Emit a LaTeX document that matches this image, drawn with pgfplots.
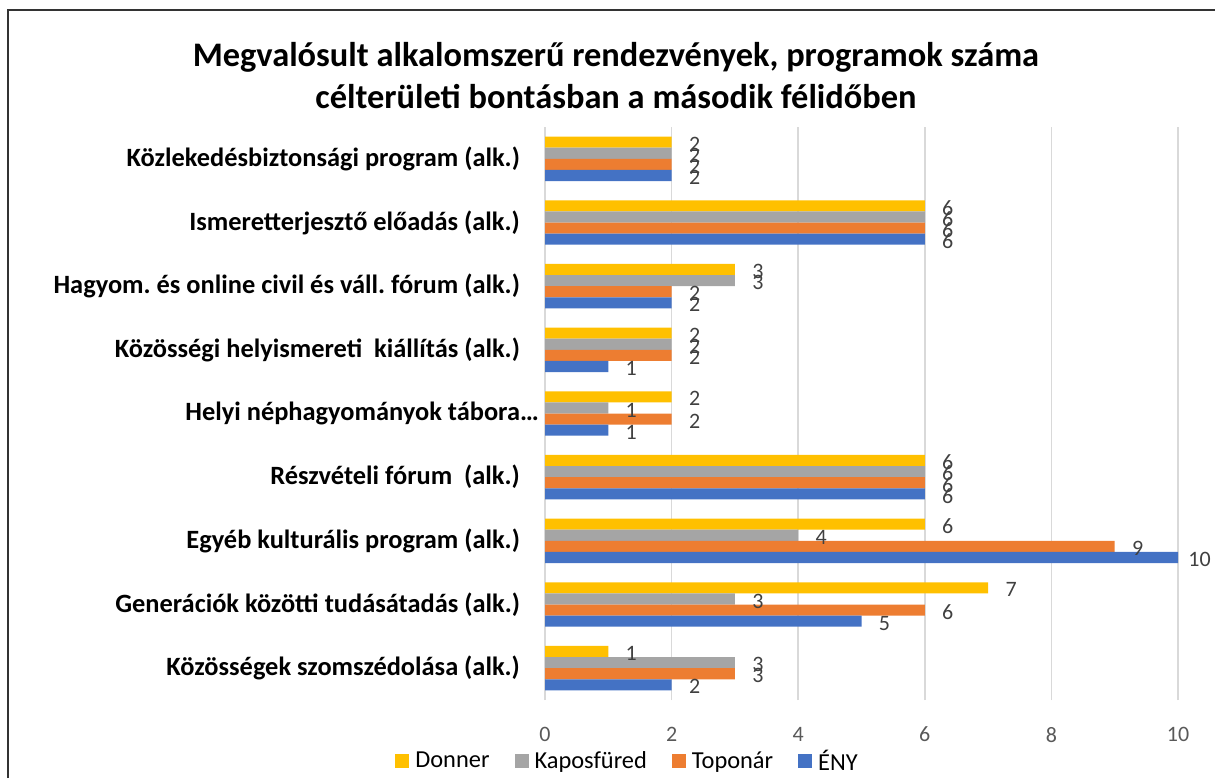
\documentclass[border=0pt]{standalone}
\usepackage{pgfplots}
\usepackage{pgfplotstable}
\pgfplotsset{compat=1.18}
\usepackage{fontspec}
\setmainfont{Carlito}
\frenchspacing
\definecolor{cDon}{RGB}{255,192,0}
\definecolor{cKap}{RGB}{165,165,165}
\definecolor{cTop}{RGB}{237,125,49}
\definecolor{cEny}{RGB}{68,114,196}
\definecolor{tickgray}{RGB}{89,89,89}
\definecolor{labgray}{RGB}{64,64,64}
\definecolor{gridgray}{RGB}{217,217,217}
\pgfplotstableread{
y eny top kap don
0 2 3 3 1
1 5 6 3 7
2 10 9 4 6
3 6 6 6 6
4 1 2 1 2
5 1 2 2 2
6 2 2 3 3
7 6 6 6 6
8 2 2 2 2
}\data
\begin{document}
\begin{tikzpicture}
\useasboundingbox (0,0) rectangle (607.5pt,389pt);
\draw[line width=1pt, black!80] (4pt,0) -- (4pt,384pt) -- (607.5pt,384pt);
\node[align=center, font=\bfseries\fontsize{17.2}{21}\selectfont] at (308pt,351pt)
  {Megvalósult alkalomszerű rendezvények, programok száma\\célterületi bontásban a második félidőben};
\begin{axis}[
  at={(272.5pt,39pt)}, anchor=south west,
  scale only axis, width=316.5pt, height=286.5pt,
  xbar, bar width=5.55pt,
  xmin=0, xmax=10, ymin=-0.5, ymax=8.5,
  xtick={0,2,...,10}, ytick={0,...,8},
  yticklabels={Közösségek szomszédolása (alk.),Generációk közötti tudásátadás (alk.),Egyéb kulturális program (alk.),Részvételi fórum\ \ (alk.),Helyi néphagyományok tábora\rlap{…},Közösségi helyismereti\ \ kiállítás (alk.),Hagyom. és online civil és váll. fórum (alk.),Ismeretterjesztő előadás (alk.),Közlekedésbiztonsági program (alk.)},
  yticklabel style={font=\bfseries\fontsize{13.2}{15}\selectfont, anchor=east, xshift=-9pt},
  xticklabel style={font=\fontsize{11}{13}\selectfont, text=tickgray, yshift=-10pt},
  /pgf/number format/assume math mode=true,
  axis line style={draw=none}, major tick length=0pt,
  xmajorgrids, grid style={draw=gridgray, line width=0.75pt},
  clip=false,
  nodes near coords,
  visualization depends on={rawx \as \rawx},
  every node near coord/.append style={font=\fontsize{11}{13}\selectfont, text=labgray, anchor=west, inner sep=0pt, yshift=-1pt, xshift={(\rawx>9.5 ? 5 : 8.5)*1pt}},
  legend columns=4,
  legend style={at={(-0.237,-0.1073)}, anchor=west, draw=none, fill=none, inner sep=0pt,
    font=\fontsize{12.2}{14}\selectfont, nodes={inner sep=0pt},
    /tikz/every odd column/.append style={column sep=3pt},
    /tikz/every even column/.append style={column sep=12.5pt}},
  legend image code/.code={\fill[#1] (0pt,-3.5pt) rectangle (7pt,3.5pt);},
]
\addplot[fill=cDon, draw=none, bar shift=8.325pt] table[x=don, y=y] {\data};
\addlegendentry{Donner}
\addplot[fill=cKap, draw=none, bar shift=2.775pt] table[x=kap, y=y] {\data};
\addlegendentry{Kaposfüred}
\addplot[fill=cTop, draw=none, bar shift=-2.775pt] table[x=top, y=y] {\data};
\addlegendentry{Toponár}
\addplot[fill=cEny, draw=none, bar shift=-8.325pt] table[x=eny, y=y] {\data};
\addlegendentry{ÉNY}
\end{axis}
\end{tikzpicture}
\end{document}
